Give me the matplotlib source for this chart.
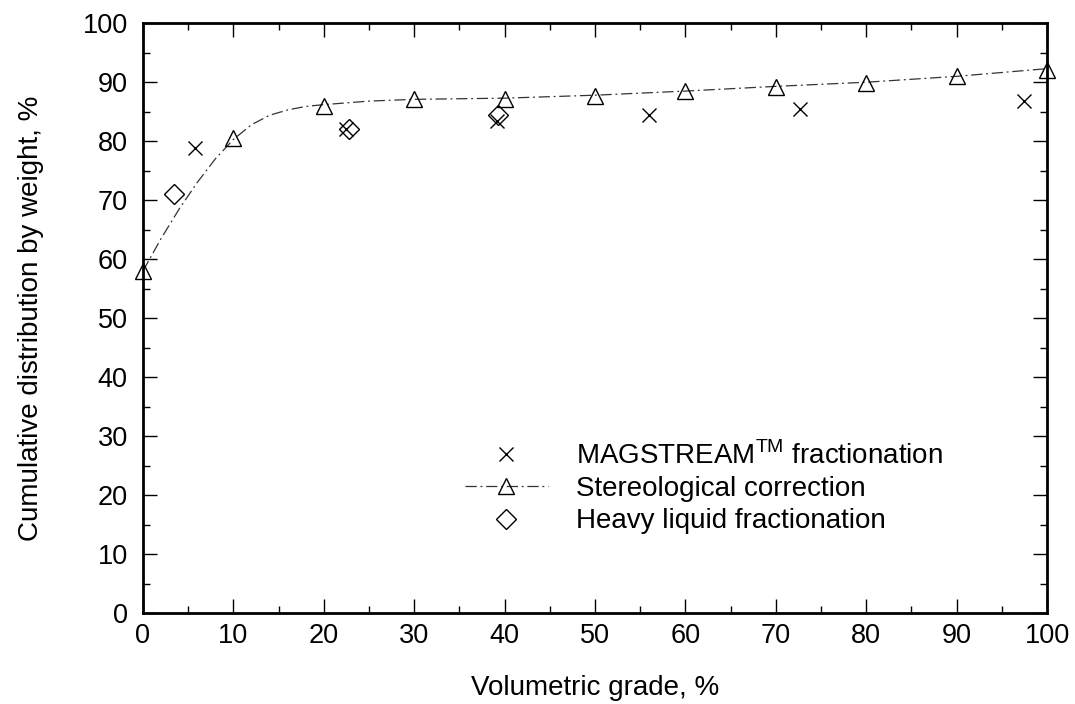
import numpy as np
import matplotlib.pyplot as plt
from matplotlib.ticker import MultipleLocator

plt.rcParams['font.family'] = ['Liberation Sans', 'DejaVu Sans']
plt.rcParams['mathtext.fontset'] = 'custom'
plt.rcParams['mathtext.rm'] = 'Liberation Sans'

# MAGSTREAM fractionation
mag_x = [5.8, 22.5, 39.2, 56.0, 72.7, 97.5]
mag_y = [78.8, 82.1, 83.4, 84.4, 85.4, 86.9]

# Stereological correction (points)
ster_x = [0, 10, 20, 30, 40, 50, 60, 70, 80, 90, 100]
ster_y = [58.0, 80.5, 86.0, 87.1, 87.1, 87.7, 88.5, 89.2, 89.9, 91.0, 92.1]

# Stereological correction (fitted curve)
curve_x = [0, 2, 4, 6, 8, 10, 12, 14, 16, 18, 20, 25, 30, 40, 50, 60, 70, 80, 90, 100]
curve_y = [58.0, 63.5, 68.5, 73.0, 77.0, 80.3, 82.8, 84.4, 85.3, 85.9, 86.2, 86.8, 87.1,
           87.3, 87.8, 88.5, 89.3, 90.0, 91.0, 92.3]

# Heavy liquid fractionation
hl_x = [3.4, 22.8, 39.3]
hl_y = [71.0, 82.1, 84.5]

labels = [r'MAGSTREAM$^{\rm TM}$ fractionation', 'Stereological correction',
          'Heavy liquid fractionation']

dashdot = (0, (9, 3, 1.5, 3))

fig = plt.figure(figsize=(10.75, 7.04), dpi=100)
ax = fig.add_axes([0.133, 0.129, 0.841, 0.838])

ax.plot(mag_x, mag_y, 'x', color='black', markersize=10, markeredgewidth=1.0)
ax.plot(curve_x, curve_y, color='#333333', linewidth=0.9, linestyle=dashdot)
ax.plot(ster_x, ster_y, '^', color='black', markerfacecolor='none', markersize=11,
        markeredgewidth=1.0, clip_on=False)
ax.plot(hl_x, hl_y, 'D', color='black', markerfacecolor='none', markersize=10,
        markeredgewidth=1.0)

# legend handles
h_mag = plt.Line2D([], [], marker='x', color='black', linestyle='none', markersize=10)
h_ster = plt.Line2D([], [], marker='^', color='#333333', markerfacecolor='none',
                    markeredgecolor='black', markersize=11, linewidth=0.9,
                    linestyle=dashdot)
h_hl = plt.Line2D([], [], marker='D', color='black', markerfacecolor='none',
                  linestyle='none', markersize=10)
ax.legend([h_mag, h_ster, h_hl], labels,
          loc='upper left', bbox_to_anchor=(0.356, 0.2915), frameon=False, fontsize=20,
          handlelength=3.0, handletextpad=1.0, labelspacing=0.23,
          borderpad=0, borderaxespad=0)

ax.set_xlim(0, 100)
ax.set_ylim(0, 100)
ax.xaxis.set_major_locator(MultipleLocator(10))
ax.xaxis.set_minor_locator(MultipleLocator(5))
ax.yaxis.set_major_locator(MultipleLocator(10))
ax.yaxis.set_minor_locator(MultipleLocator(5))
ax.tick_params(which='both', direction='in', top=True, right=True, labelsize=19.5)
ax.tick_params(axis='x', pad=7)
ax.tick_params(axis='y', pad=11)
ax.tick_params(which='major', length=10, width=1)
ax.tick_params(which='minor', length=5, width=1)
for s in ax.spines.values():
    s.set_linewidth(2)

ax.set_xlabel('Volumetric grade, %', fontsize=20)
ax.set_ylabel('Cumulative distribution by weight, %', fontsize=20)
ax.xaxis.set_label_coords(0.5, -0.105)
ax.yaxis.set_label_coords(-0.110, 0.5)

fig.savefig('out.png', dpi=100)
